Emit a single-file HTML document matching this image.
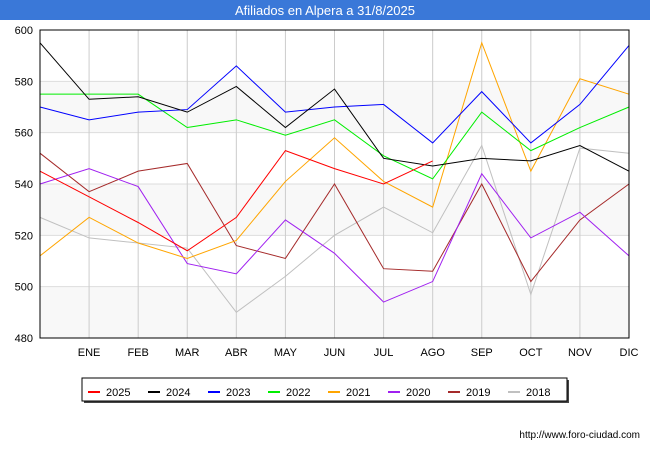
<!DOCTYPE html>
<html><head><meta charset="utf-8"><style>
body{margin:0;background:#fff;font-family:"Liberation Sans",sans-serif}
svg text{font-family:"Liberation Sans",sans-serif}
</style></head><body>
<svg width="650" height="450" xmlns="http://www.w3.org/2000/svg">
<rect x="0" y="0" width="650" height="20" fill="#3a78d8"/>
<text x="325" y="15" text-anchor="middle" fill="#fff" font-size="13">Afiliados en Alpera a 31/8/2025</text>
<g id="bands"></g><g id="grid"></g><g id="series"></g>
<rect x="40" y="30" width="589" height="308" fill="none" stroke="#000" stroke-width="1"/>
<g id="labels"></g>
<rect x="84" y="380" width="485" height="23" fill="#444"/>
<rect x="82" y="378" width="485" height="23" fill="#fff" stroke="#000"/>
<g id="legend"></g>
<text x="640" y="438" text-anchor="end" font-size="10" fill="#000">http://www.foro-ciudad.com</text>
</svg>
<script>
const months=["","ENE","FEB","MAR","ABR","MAY","JUN","JUL","AGO","SEP","OCT","NOV","DIC"];
const yTicks=[480,500,520,540,560,580,600];
const seriesNames=["2025","2024","2023","2022","2021","2020","2019","2018"];
const seriesColors=["#ff0000","#000000","#0000ff","#00ee00","#ffa500","#a020f0","#a52a2a","#c0c0c0"];
const s2025=[545,535,525,514,527,553,546,540,549];
const s2024=[595,573,574,568,578,562,577,550,547,550,549,555,545];
const s2023=[570,565,568,569,586,568,570,571,556,576,556,571,594];
const s2022=[575,575,575,562,565,559,565,551,542,568,553,562,570];
const s2021=[512,527,517,511,518,541,558,541,531,595,545,581,575];
const s2020=[540,546,539,509,505,526,513,494,502,544,519,529,512];
const s2019=[552,537,545,548,516,511,540,507,506,540,502,526,540];
const s2018=[527,519,517,515,490,504,520,531,521,555,497,554,552];
const allSeries=[s2025,s2024,s2023,s2022,s2021,s2020,s2019,s2018];
const NS="http://www.w3.org/2000/svg";
const X0=40,X1=629,Y0=338,Y1=30;
const xs=i=>X0+(X1-X0)*i/(months.length-1);
const ys=v=>Y0-(v-480)/(600-480)*(Y0-Y1);
function mk(t,a,p){const e=document.createElementNS(NS,t);for(const k in a)e.setAttribute(k,a[k]);document.getElementById(p).appendChild(e);return e;}
for(let i=0;i<yTicks.length-1;i++){ if(i%2==0){
 const r=mk("rect",{x:X0,y:ys(yTicks[i+1]),width:X1-X0,height:ys(yTicks[i])-ys(yTicks[i+1]),fill:"#f8f8f8"},"bands");
 
 }}
yTicks.forEach(v=>{
 const l=mk("line",{x1:X0,x2:X1,y1:ys(v),y2:ys(v),stroke:"#ddd"},"grid");
 
 
 const t=mk("text",{x:33,y:ys(v)+4,"text-anchor":"end","font-size":"11"},"labels");t.textContent=v;
 
 
});
months.forEach((m,i)=>{
 if(i>0){const l=mk("line",{x1:xs(i),x2:xs(i),y1:Y1,y2:Y0,stroke:"#ccc"},"grid");
 
 }
 if(m){const t=mk("text",{x:xs(i),y:356,"text-anchor":"middle","font-size":"11"},"labels");t.textContent=m;
 
 }
});
for(let k=allSeries.length-1;k>=0;k--){
 const pts=allSeries[k].map((v,i)=>xs(i)+","+ys(v)).join(" ");
 const p=mk("polyline",{points:pts,fill:"none",stroke:seriesColors[k],"stroke-width":"1"},"series");
 
 
}
seriesNames.forEach((n,k)=>{
 const x=88+k*60;
 const l=mk("line",{x1:x,x2:x+12,y1:392,y2:392,stroke:seriesColors[k],"stroke-width":"2"},"legend");
 
 
 const t=mk("text",{x:x+18,y:396,"font-size":"11"},"legend");t.textContent=n;
 
 
});
</script>
</body></html>
